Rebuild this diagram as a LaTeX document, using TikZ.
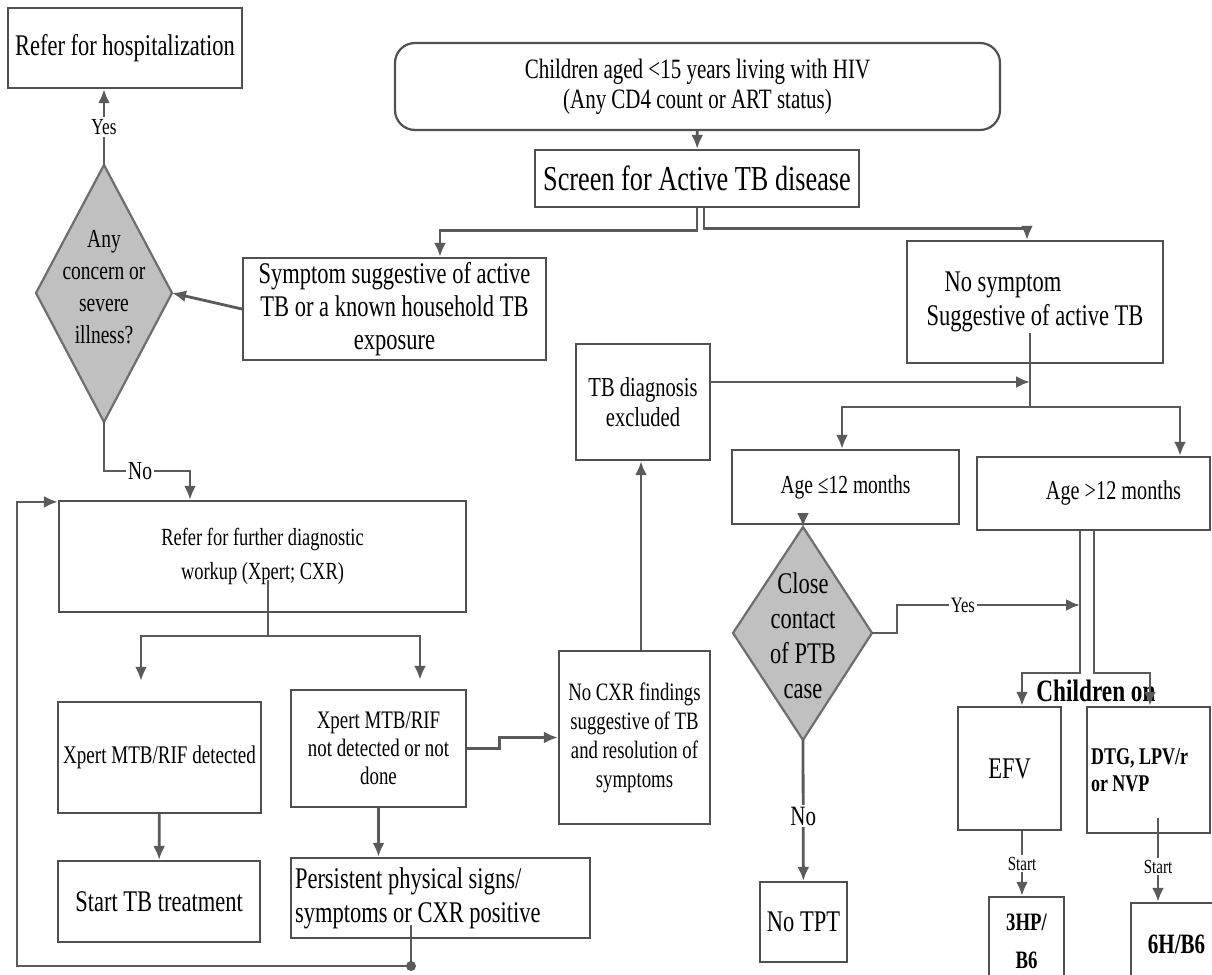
\documentclass[tikz,border=0pt]{standalone}
\usepackage{fontspec}
\setmainfont{Liberation Serif}[FakeStretch=0.75]
\usetikzlibrary{arrows.meta}

\definecolor{linegray}{HTML}{5A5A5A}
\definecolor{diafill}{HTML}{C0C0C0}
\definecolor{diaborder}{HTML}{6E6E6E}
\definecolor{boxborder}{HTML}{505050}

\newcommand{\fz}[2]{\fontsize{#1}{#2}\selectfont}

\tikzset{
  box/.style={draw=boxborder, line width=1.1pt, align=center, inner sep=2pt},
  dia/.style={draw=diaborder, fill=diafill, line width=1.1pt},
  conn/.style={draw=linegray, line width=1.4pt},
  lbl/.style={fill=white, inner sep=1pt},
}

\begin{document}
\begin{tikzpicture}[>={Latex[length=7pt,width=6pt]}, x=0.5pt, y=-0.5pt]
\useasboundingbox (0,0) rectangle (1212,975);

% top
\node[box, rounded corners=10pt, minimum width=302.5pt, minimum height=43.5pt, font=\fz{14}{15}] (start) at (697.5,86.5) {Children aged <15 years living with HIV\\(Any CD4 count or ART status)};
\node[box, minimum width=162pt, minimum height=28.5pt, font=\fz{17.5}{19}] (screen) at (697,178.5) {Screen for Active TB disease};

\node[box, minimum width=151.5pt, minimum height=51pt, font=\fz{15}{16.5}] (symp) at (394.5,309) {Symptom suggestive of active\\TB or a known household TB\\exposure};
\node[box, minimum width=128pt, minimum height=61pt, align=flush left, font=\fz{15}{17}] (nosym) at (1035,302) {\hspace{9pt}No symptom\\Suggestive of active TB};

% left branch
\node[box, minimum width=117pt, minimum height=40pt, font=\fz{15}{17}] (hosp) at (125,48) {Refer for hospitalization};

\coordinate (anyN) at (104,165);
\coordinate (anyE) at (172,293);
\coordinate (anyS) at (104,422);
\coordinate (anyW) at (36,293);
\draw[dia] (anyN) -- (anyE) -- (anyS) -- (anyW) -- cycle;
\node[align=center, font=\fz{13}{16}] (any) at (104,287) {Any\\concern or\\severe\\illness?};

\node[box, minimum width=203.5pt, minimum height=55.5pt, font=\fz{12.3}{17}] (refer) at (262.5,556.5) {Refer for further diagnostic\\workup (Xpert; CXR)};
\node[box, minimum width=101.5pt, minimum height=55.5pt, font=\fz{12.7}{14}] (det) at (159.5,757.5) {Xpert MTB/RIF detected};
\node[box, minimum width=87.5pt, minimum height=58.5pt, font=\fz{12.6}{14}] (notdet) at (378.5,748.5) {Xpert MTB/RIF\\not detected or not\\done};
\node[box, minimum width=101pt, minimum height=40.5pt, font=\fz{15}{17}] (starttb) at (159,901.5) {Start TB treatment};
\node[box, text width=145.5pt, minimum height=40pt, align=flush left, font=\fz{15}{17}] (persist) at (440.5,898) {Persistent physical signs/\\symptoms or CXR positive};

\node[box, minimum width=75.5pt, minimum height=86.5pt, font=\fz{12.5}{14.5}] (nocxr) at (634.5,737.5) {No CXR findings\\suggestive of TB\\and resolution of\\symptoms};
\node[box, minimum width=67pt, minimum height=58pt, font=\fz{13.7}{15}] (tbex) at (643,402) {TB diagnosis\\excluded};

% right branch
\node[box, minimum width=113.5pt, minimum height=37pt, font=\fz{13}{15}] (age1) at (845.5,487) {Age ≤12 months};
\node[box, minimum width=116.5pt, minimum height=36.5pt, font=\fz{13.5}{15}] (age2) at (1093.5,493.5) {\hspace{20pt}Age >12 months};

\coordinate (closeN) at (803,527);
\coordinate (closeE) at (872,633);
\coordinate (closeS) at (803,740);
\coordinate (closeW) at (733,633);
\draw[dia] (closeN) -- (closeE) -- (closeS) -- (closeW) -- cycle;
\node[align=center, font=\fz{15}{17.5}] (close) at (803,636) {Close\\contact\\of PTB\\case};

\node[box, minimum width=43.5pt, minimum height=40pt, font=\fz{15}{17}] (notpt) at (803.5,922) {No TPT};
\node[font=\bfseries\fz{15.5}{17}, inner sep=1pt] (chon) at (1096,691) {Children on};
\node[box, minimum width=51.5pt, minimum height=61.5pt, font=\fz{15}{17}] (efv) at (1009.5,768.5) {EFV};
\node[box, text width=57.5pt, minimum height=63pt, align=flush left, font=\bfseries\fz{12}{13.5}] (dtg) at (1148.5,770) {DTG, LPV/r\\or NVP};
\node[box, minimum width=37.5pt, minimum height=44pt, font=\bfseries\fz{12.5}{19}] (hp3) at (1026.5,941) {3HP/\\B6};
\node[box, minimum width=45.5pt, minimum height=41pt, font=\bfseries\fz{14}{16}] (h6) at (1176.5,944) {6H/B6};

% connectors
\draw[conn,->] (start) -- (screen);
\draw[conn,->] (screen.south) -- ++(0,22) -| (440,0 |- symp.north);
\draw[conn,->] ([xshift=3.5pt]screen.south) -- ++(0,20) -| (1027,0 |- nosym.north);

\draw[conn,->] (symp.west) -- (anyE);
\draw[conn,->] (anyN) -- node[lbl, font=\fz{11.5}{13}]{Yes} (anyN |- hosp.south);
\draw[conn,->] (anyS) |- node[lbl, pos=0.71, font=\fz{13}{15}]{No} (190,471) -- (190,0 |- refer.north);

\coordinate (rsplit) at (268,636);
\draw[conn] ([xshift=2.75pt,yshift=-11.75pt]refer.center) -- (rsplit);
\draw[conn,->,shorten >=10pt] (rsplit) -| ([xshift=-9.25pt]det.north);
\draw[conn,->,shorten >=4.5pt] (rsplit) -| ([xshift=20.75pt]notdet.north);
\draw[conn,->] (det) -- (starttb);
\draw[conn,->] (notdet.south) -- (notdet.south |- persist.north);
\draw[conn,->] (notdet.east) -- ++(32,0) |- (nocxr.west);

\coordinate (loopdot) at (411,966);
\draw[conn,->] ([xshift=-14.75pt,yshift=-13.5pt]persist.center) -- (loopdot) -| ([xshift=-20.5pt,yshift=-1pt]refer.north west) -- ([yshift=-1pt]refer.north west);
\fill[linegray] (loopdot) circle (2.5pt);

\coordinate (nc) at ([xshift=3.25pt]nocxr.north);
\draw[conn,->] (nc) -- (nc |- tbex.south);

\coordinate (split) at (1030,407);
\coordinate (tx) at ([yshift=10pt]tbex.east);
\draw[conn,->] (tx) -- (tx -| split);
\draw[conn] ([xshift=-2.5pt,yshift=-15.5pt]nosym.center) -- (split);
\draw[conn,->] (split) -| ([xshift=-1.75pt]age1.north);
\draw[conn,->] (split) -| ([xshift=43.25pt]age2.north);

\draw[conn,->] (closeN |- age1.south) -- (closeN);
\coordinate (a2l) at ([xshift=-6.75pt]age2.south);
\coordinate (a2r) at ([xshift=0.25pt]age2.south);
\draw[conn,->] (closeE) -- ++(25,0) |- node[lbl, pos=0.68, font=\fz{11}{13}]{Yes} (a2l |- 0,605);
\draw[conn,->] (a2l) -- (a2l |- 0,673) -| ([xshift=6.25pt]efv.north);
\draw[conn,->] (a2r) -- (a2r |- 0,673) -| ([xshift=0.75pt]dtg.north);
\draw[conn,->] (closeS) -- node[lbl, pos=0.54, font=\fz{14}{16}]{No} (notpt);

\coordinate (ef) at ([xshift=6.25pt]efv.south);
\draw[conn,->] (ef) -- node[lbl, font=\fz{10}{12}]{Start} (ef |- hp3.north);
\coordinate (dt) at ([xshift=4.75pt,yshift=-24pt]dtg.center);
\draw[conn,->] (dt) -- node[lbl, pos=0.58, font=\fz{10}{12}]{Start} (dt |- h6.north);

\end{tikzpicture}
\end{document}
